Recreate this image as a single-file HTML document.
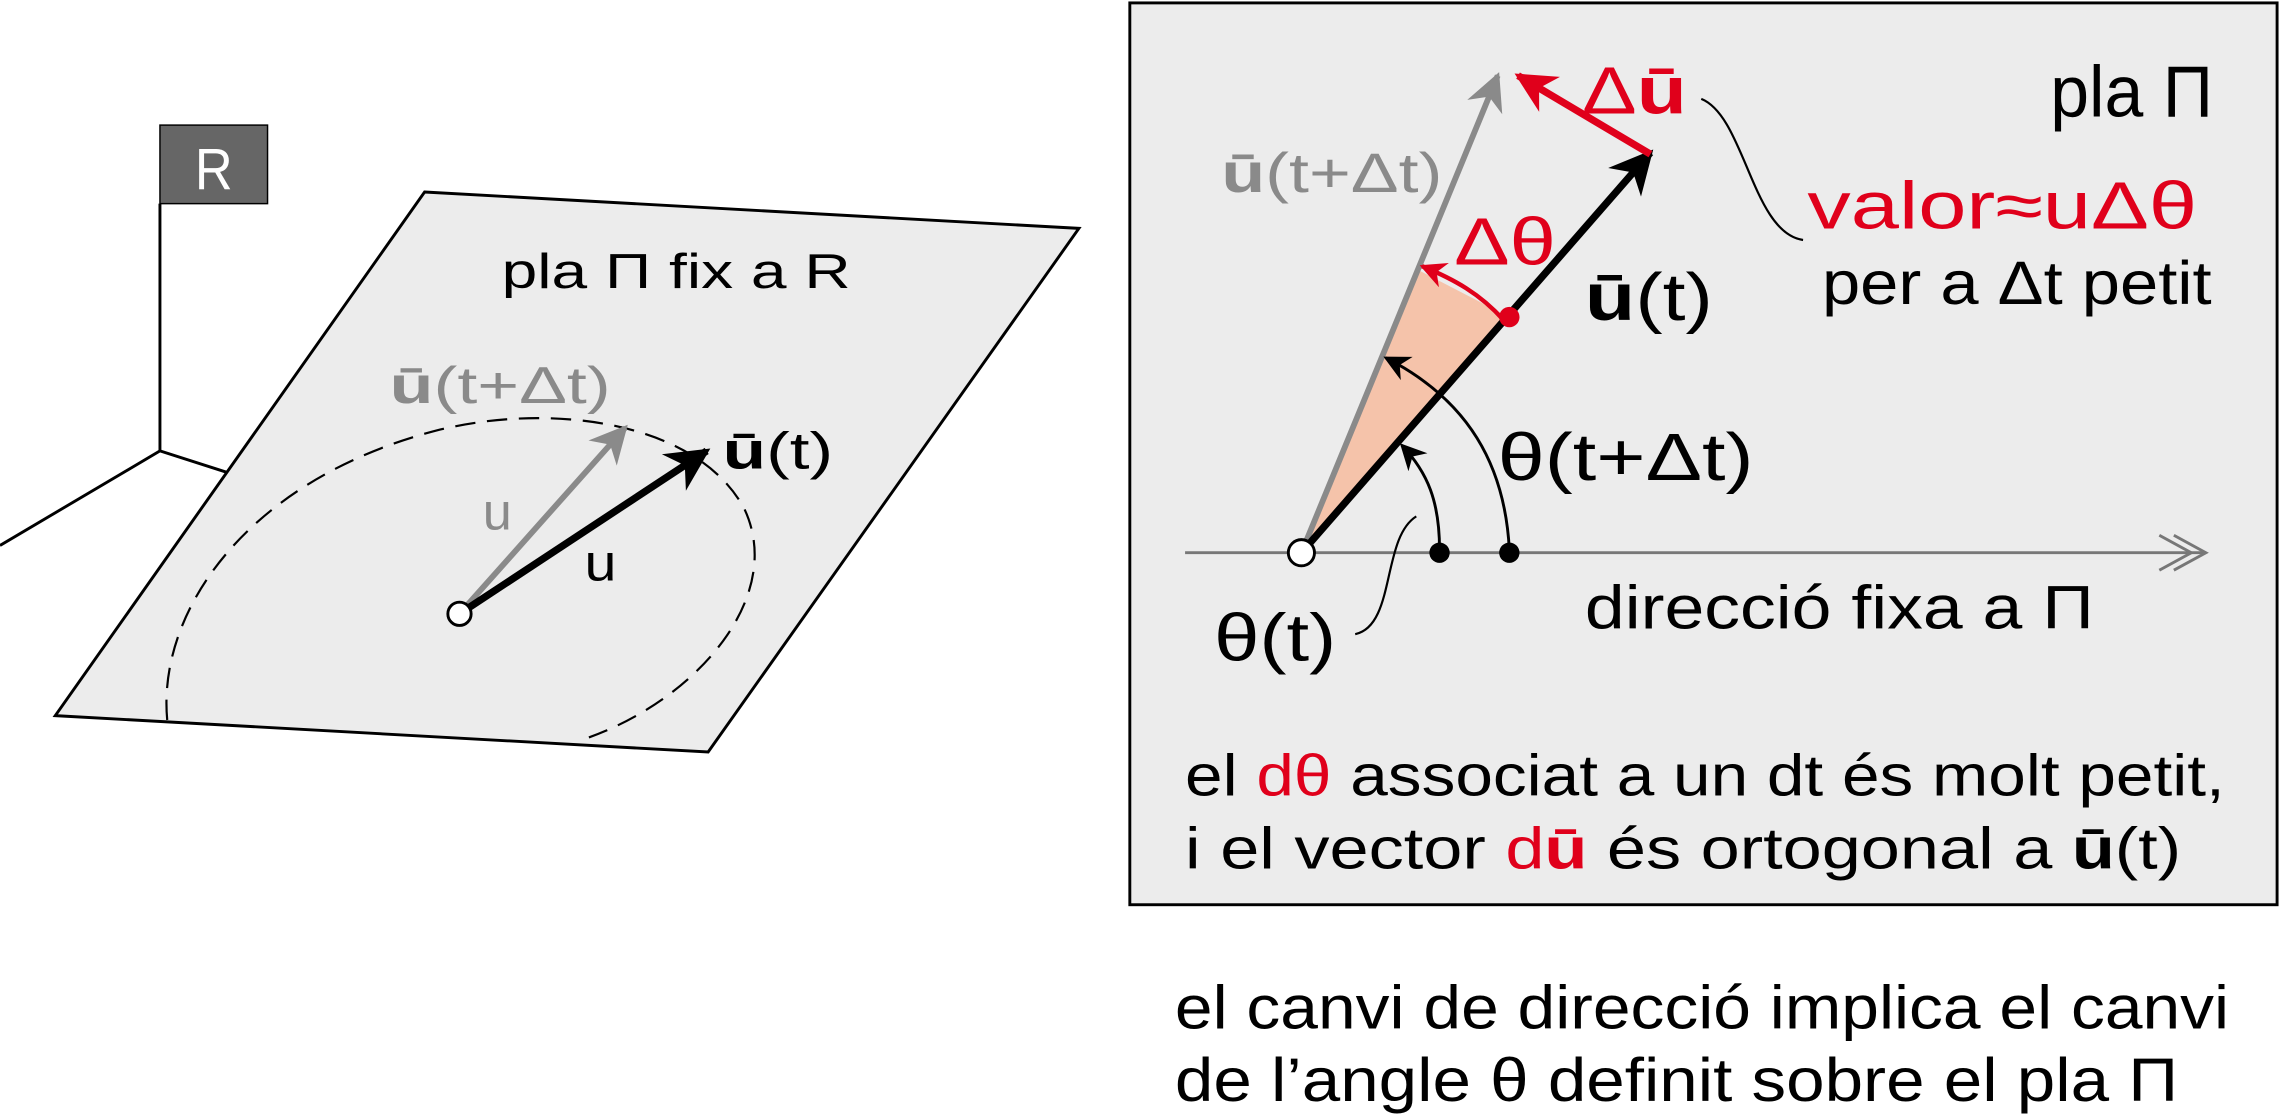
<!DOCTYPE html>
<html><head><meta charset="utf-8"><style>html,body{margin:0;padding:0;background:#fff}svg{display:block}</style></head>
<body>
<svg width="2280" height="1120" viewBox="0 0 1568 770" preserveAspectRatio="none" xmlns="http://www.w3.org/2000/svg" font-family="Liberation Sans, sans-serif">
<defs>
<marker id="abig" viewBox="0 0 10 10" refX="9" refY="5" markerWidth="36" markerHeight="30" orient="auto" markerUnits="userSpaceOnUse"><path d="M0,0 L10,5 L0,10 L3,5z" fill="#000"/></marker>
<marker id="agray" viewBox="0 0 10 10" refX="9" refY="5" markerWidth="32" markerHeight="26" orient="auto" markerUnits="userSpaceOnUse"><path d="M0,0 L10,5 L0,10 L3,5z" fill="#8a8a8a"/></marker>
<marker id="ared" viewBox="0 0 10 10" refX="9" refY="5" markerWidth="34" markerHeight="28" orient="auto" markerUnits="userSpaceOnUse"><path d="M0,0 L10,5 L0,10 L3,5z" fill="#e0001b"/></marker>
<marker id="asm" viewBox="0 0 10 10" refX="9" refY="5" markerWidth="22" markerHeight="18" orient="auto" markerUnits="userSpaceOnUse"><path d="M0,0 L10,5 L0,10 L3,5z" fill="#000"/></marker>
<marker id="asr" viewBox="0 0 10 10" refX="9" refY="5" markerWidth="22" markerHeight="18" orient="auto" markerUnits="userSpaceOnUse"><path d="M0,0 L10,5 L0,10 L3,5z" fill="#e0001b"/></marker>
</defs>

<!-- LEFT -->
<line x1="110" y1="140" x2="110" y2="310" stroke="#000" stroke-width="2"/>
<line x1="110" y1="310" x2="0" y2="375" stroke="#000" stroke-width="2"/>
<line x1="110" y1="310" x2="160" y2="326" stroke="#000" stroke-width="2"/>
<rect x="110" y="86" width="74" height="54" fill="#666" stroke="#000" stroke-width="1"/>
<text x="147" y="130" font-size="40" fill="#fff" text-anchor="middle" textLength="26" lengthAdjust="spacingAndGlyphs">R</text>
<polygon points="292,132 742,157 487,517 38,492" fill="#ececec" stroke="#000" stroke-width="2"/>
<text x="465" y="198" font-size="34" text-anchor="middle" textLength="240" lengthAdjust="spacingAndGlyphs">pla Π fix a R</text>
<path d="M115,495 C108,420 170,330 300,296 C380,276 480,290 512,350 C540,410 480,480 405,507" fill="none" stroke="#000" stroke-width="1.5" stroke-dasharray="14,8"/>
<line x1="316" y1="422" x2="430" y2="294" stroke="#8a8a8a" stroke-width="4" marker-end="url(#agray)"/>
<line x1="316" y1="422" x2="486" y2="310" stroke="#000" stroke-width="5" marker-end="url(#abig)"/>
<circle cx="316" cy="422" r="8" fill="#fff" stroke="#000" stroke-width="2"/>
<text x="268" y="277" font-size="36" fill="#8a8a8a" textLength="152" lengthAdjust="spacingAndGlyphs"><tspan font-weight="bold">ū</tspan>(t+Δt)</text>
<text x="497" y="322" font-size="36" textLength="76" lengthAdjust="spacingAndGlyphs"><tspan font-weight="bold">ū</tspan>(t)</text>
<text x="332" y="364" font-size="36" fill="#8a8a8a" textLength="20" lengthAdjust="spacingAndGlyphs">u</text>
<text x="402" y="399" font-size="36" textLength="22" lengthAdjust="spacingAndGlyphs">u</text>

<!-- RIGHT PANEL -->
<rect x="777" y="2" width="789" height="620" fill="#ececec" stroke="#000" stroke-width="2"/>
<polygon points="895,380 1038,218 976,186" fill="#f5c3aa"/>
<line x1="815" y1="380" x2="1517" y2="380" stroke="#777" stroke-width="2"/>
<path d="M1495,368 L1517,380 L1495,392 M1485,368 L1507,380 L1485,392" fill="none" stroke="#777" stroke-width="2"/>
<line x1="895" y1="380" x2="1030" y2="52" stroke="#8a8a8a" stroke-width="4" marker-end="url(#agray)"/>
<line x1="895" y1="380" x2="1135" y2="105" stroke="#000" stroke-width="5" marker-end="url(#abig)"/>
<line x1="1135" y1="106" x2="1044" y2="52" stroke="#e0001b" stroke-width="5" marker-end="url(#ared)"/>
<path d="M1034,220 C1018,202 1000,192 978,183" fill="none" stroke="#e0001b" stroke-width="3" marker-end="url(#asr)"/>
<circle cx="1038" cy="218" r="7" fill="#e0001b"/>
<path d="M990,378 C990,345 982,325 964,306" fill="none" stroke="#000" stroke-width="2" marker-end="url(#asm)"/>
<path d="M1038,378 C1035,320 1010,275 953,246" fill="none" stroke="#000" stroke-width="2" marker-end="url(#asm)"/>
<circle cx="990" cy="380" r="7" fill="#000"/>
<circle cx="1038" cy="380" r="7" fill="#000"/>
<circle cx="895" cy="380" r="9" fill="#fff" stroke="#000" stroke-width="2"/>
<path d="M1170,68 C1200,80 1205,160 1240,165" fill="none" stroke="#000" stroke-width="1.5"/>
<path d="M932,436 C960,430 950,370 974,355" fill="none" stroke="#000" stroke-width="1.5"/>

<text x="1410" y="80" font-size="50" textLength="112" lengthAdjust="spacingAndGlyphs">pla Π</text>
<text x="1088" y="78" font-size="46" fill="#e0001b" textLength="72" lengthAdjust="spacingAndGlyphs">Δ<tspan font-weight="bold">ū</tspan></text>
<text x="1243" y="157" font-size="46" fill="#e0001b" textLength="268" lengthAdjust="spacingAndGlyphs">valor≈uΔθ</text>
<text x="1253" y="209" font-size="42" textLength="268" lengthAdjust="spacingAndGlyphs">per a Δt petit</text>
<text x="1090" y="220" font-size="46" textLength="88" lengthAdjust="spacingAndGlyphs"><tspan font-weight="bold">ū</tspan>(t)</text>
<text x="1000" y="182" font-size="46" fill="#e0001b" textLength="70" lengthAdjust="spacingAndGlyphs">Δθ</text>
<text x="840" y="132" font-size="38" fill="#8a8a8a" textLength="152" lengthAdjust="spacingAndGlyphs"><tspan font-weight="bold">ū</tspan>(t+Δt)</text>
<text x="1030" y="330" font-size="46" textLength="176" lengthAdjust="spacingAndGlyphs">θ(t+Δt)</text>
<text x="835" y="454" font-size="46" textLength="84" lengthAdjust="spacingAndGlyphs">θ(t)</text>
<text x="1090" y="432" font-size="42" textLength="350" lengthAdjust="spacingAndGlyphs">direcció fixa a Π</text>
<text x="815" y="547" font-size="40" textLength="715" lengthAdjust="spacingAndGlyphs">el <tspan fill="#e0001b">dθ</tspan> associat a un dt és molt petit,</text>
<text x="815" y="597" font-size="40" textLength="685" lengthAdjust="spacingAndGlyphs">i el vector <tspan fill="#e0001b">d<tspan font-weight="bold">ū</tspan></tspan> és ortogonal a <tspan font-weight="bold">ū</tspan>(t)</text>

<text x="808" y="707" font-size="42" textLength="725" lengthAdjust="spacingAndGlyphs">el canvi de direcció implica el canvi</text>
<text x="808" y="757" font-size="42" textLength="690" lengthAdjust="spacingAndGlyphs">de l’angle θ definit sobre el pla Π</text>
</svg>
</body></html>
